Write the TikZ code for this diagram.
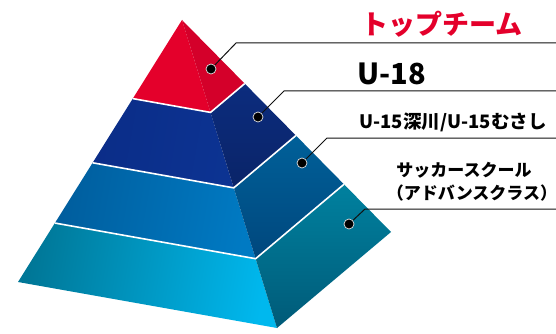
\documentclass[tikz,border=0pt]{standalone}
\usepackage{fontspec}
\newfontfamily\jp{Noto Sans CJK JP}
\usetikzlibrary{calc}
\definecolor{redF}{HTML}{E4002B}
\definecolor{redR}{HTML}{D4002A}
\definecolor{b2L}{HTML}{0B2D88}
\definecolor{b2R}{HTML}{0C3392}
\definecolor{b2rT}{HTML}{0C2C7E}
\definecolor{b2rB}{HTML}{0A2468}
\definecolor{b3L}{HTML}{005E9E}
\definecolor{b3R}{HTML}{007AC3}
\definecolor{b3rT}{HTML}{006099}
\definecolor{b3rB}{HTML}{00477D}
\definecolor{c4L}{HTML}{007797}
\definecolor{c4R}{HTML}{00B8EE}
\definecolor{c4rT}{HTML}{00819F}
\definecolor{c4rB}{HTML}{005A78}
\definecolor{lead}{HTML}{111111}
\definecolor{topred}{HTML}{E4002B}
\tikzset{
  sep/.style={white, line width=1.6pt, line join=miter},
  dot/.style={circle, fill=black, draw=white!75!gray, line width=0.7pt, minimum size=10pt, inner sep=0pt},
  leader/.style={lead, line width=1pt},
  lbl/.style={font=\jp\bfseries, inner sep=0pt, text=black}
}
\begin{document}
\begin{tikzpicture}[x=1pt,y=-1pt]
\useasboundingbox (0,0) rectangle (556,334);
\coordinate (A) at (182,20);
\coordinate (L) at (18,282);
\coordinate (F) at (277,328);
\coordinate (R) at (391,232);
\foreach \n/\t in {1/0.30,2/0.545,3/0.775}{
  \coordinate (L\n) at ($(A)!\t!(L)$);
  \coordinate (F\n) at ($(A)!\t!(F)$);
  \coordinate (R\n) at ($(A)!\t!(R)$);
}
% top tier
\fill[redF] (A) -- (L1) -- (F1) -- cycle;
\fill[redR] (A) -- (F1) -- (R1) -- cycle;
% tier 2
\shade[left color=b2L, right color=b2R, shading angle=80] (L1) -- (F1) -- (F2) -- (L2) -- cycle;
\shade[top color=b2rT, bottom color=b2rB] (F1) -- (R1) -- (R2) -- (F2) -- cycle;
% tier 3
\shade[left color=b3L, right color=b3R, shading angle=80] (L2) -- (F2) -- (F3) -- (L3) -- cycle;
\shade[top color=b3rT, bottom color=b3rB] (F2) -- (R2) -- (R3) -- (F3) -- cycle;
% tier 4
\shade[left color=c4L, right color=c4R, shading angle=80] (L3) -- (F3) -- (F) -- (L) -- cycle;
\shade[top color=c4rT, bottom color=c4rB] (F3) -- (R3) -- (R) -- (F) -- cycle;
% separators
\foreach \n in {1,2,3}{ \draw[sep] (L\n) -- (F\n) -- (R\n); }
% dots
\node[dot] (d1) at (211,69) {};
\node[dot] (d2) at (258,117) {};
\node[dot] (d3) at (302,163) {};
\node[dot] (d4) at (349,224) {};
\coordinate (c1) at (236,43);  \coordinate (e1) at (556,43);
\coordinate (c2) at (284,91);  \coordinate (e2) at (556,91);
\coordinate (c3) at (327,138); \coordinate (e3) at (556,138);
\coordinate (c4) at (365,209); \coordinate (e4) at (556,209);
\foreach \n in {1,2,3,4}{ \draw[leader] (d\n) -- (c\n) -- (e\n); }
% labels
\node[lbl, text=topred, font=\jp\bfseries\fontsize{27}{28}\selectfont] (l1) at (442,24) {トップチーム};
\node[lbl, font=\jp\bfseries\fontsize{29}{30}\selectfont] (l2) at (392,74) {U-18};
\node[lbl, font=\jp\bfseries\fontsize{18.5}{20}\selectfont] (l3) at (453,122) {U-15深川/U-15むさし};
\node[lbl, font=\jp\bfseries\fontsize{17}{20}\selectfont, align=center] (l4a) at (464,170) {サッカースクール};
\node[lbl, font=\jp\bfseries\fontsize{17}{20}\selectfont] (l4b) at (472,193) {（アドバンスクラス）};
\end{tikzpicture}
\end{document}
